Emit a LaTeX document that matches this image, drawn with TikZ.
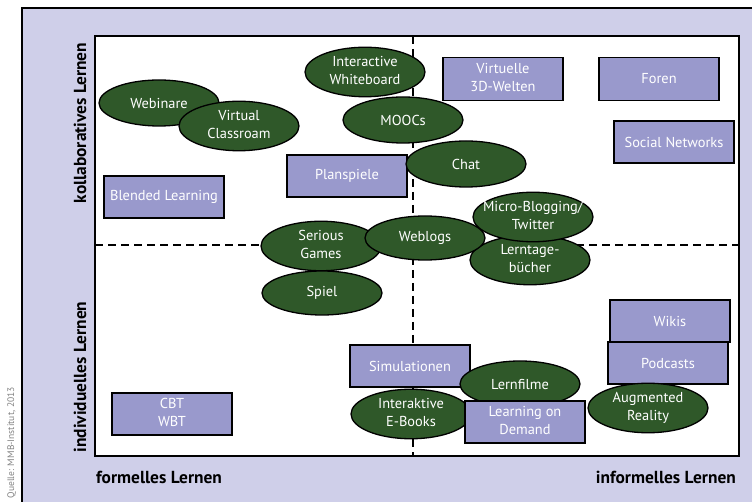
\documentclass[tikz,border=0pt]{standalone}
\usepackage{fontspec}
\setmainfont{PT Sans}
\usetikzlibrary{shapes.geometric}
\definecolor{bglav}{RGB}{207,207,233}
\definecolor{boxpurple}{RGB}{153,153,204}
\definecolor{ellgreen}{RGB}{47,88,41}
\definecolor{srcgray}{RGB}{130,130,130}
\newcommand{\zt}[1]{\makebox[0pt][c]{\begin{tabular}{@{}c@{}}#1\end{tabular}}}
\begin{document}
\begin{tikzpicture}[x=1pt,y=-1pt,
  nodefont/.style={font=\fontsize{14.4}{17.5}\selectfont},
  ell/.style={ellipse, draw=black, line width=1.3pt, fill=ellgreen, text=white,
    minimum width=120pt, minimum height=46pt, inner sep=0pt, nodefont},
  box/.style={rectangle, draw=black, line width=1.6pt, fill=boxpurple, text=white,
    minimum width=120pt, minimum height=42pt, inner sep=0pt, nodefont},
  axislabel/.style={font=\bfseries\fontsize{17.4}{19}\selectfont, text=black, inner sep=0pt},
  quadline/.style={line width=1.8pt, dash pattern=on 8pt off 5pt}]
\useasboundingbox (0,0) rectangle (752,502);
\clip (0,0) rectangle (752,502);
% frames
\path[draw=black, line width=1.5pt, fill=bglav] (22,8) rectangle (770,520);
\path[draw=black, line width=1.5pt, fill=white] (95,36) rectangle (739,456);
\coordinate (hl) at (95,245);
\coordinate (hr) at (739,245);
\coordinate (vt) at (413,36);
\coordinate (vb) at (413,456);
\draw[quadline] (hl) -- (hr);
\draw[quadline] (vt) -- (vb);
% axis labels
\node[axislabel, rotate=90] (kl) at (80,123) {kollaboratives Lernen};
\node[axislabel, rotate=90] (il) at (80,377) {individuelles Lernen};
\node[axislabel, anchor=west] (fl) at (96,477) {formelles Lernen};
\node[axislabel, anchor=east] (inf) at (736,477) {informelles Lernen};
\node[rotate=90, anchor=east, text=srcgray, inner sep=0pt, font=\fontsize{9.5}{11}\selectfont] (src) at (11.5,387) {Quelle: MMB-Institut, 2013};
% items
\node[box] (blended) at (164,197) {Blended Learning};
\node[box] (cbt) at (172,414) {\zt{CBT\\WBT}};
\node[ell] (webinare) at (159,103) {Webinare};
\node[ell] (virtual) at (239,126) {\zt{Virtual\\Classroam}};
\node[ell, minimum height=48pt] (iwb) at (365,72) {\zt{Interactive\\Whiteboard}};
\node[ell] (moocs) at (403,120) {MOOCs};
\node[box] (plan) at (347,176) {Planspiele};
\node[ell] (chat) at (466,164) {Chat};
\node[box, minimum height=43pt] (v3d) at (503,79) {\zt{Virtuelle\\3D-Welten}};
\node[box, minimum height=43pt] (foren) at (659,79) {Foren};
\node[box] (social) at (674,142) {Social Networks};
\node[ell] (serious) at (321,246) {\zt{Serious\\Games}};
\node[ell, minimum height=44pt] (spiel) at (322,293) {Spiel};
\node[ell, minimum height=44pt] (lerntage) at (530,260) {\zt{Lerntage-\\bücher}};
\node[ell, minimum height=44pt] (weblogs) at (425,238) {Weblogs};
\node[ell] (micro) at (533,217) {\zt{Micro-Blogging/\\Twitter}};
\node[box] (simul) at (410,366) {Simulationen};
\node[ell] (lernfilme) at (520,384) {Lernfilme};
\node[ell, minimum height=47pt] (ebooks) at (411,414) {\zt{Interaktive\\E-Books}};
\node[box] (lod) at (525,422) {\zt{Learning on\\Demand}};
\node[box] (wikis) at (670,321) {Wikis};
\node[box] (podcasts) at (668,363) {Podcasts};
\node[ell, minimum height=47pt] (ar) at (648,408) {\zt{Augmented\\Reality}};
\end{tikzpicture}
\end{document}
